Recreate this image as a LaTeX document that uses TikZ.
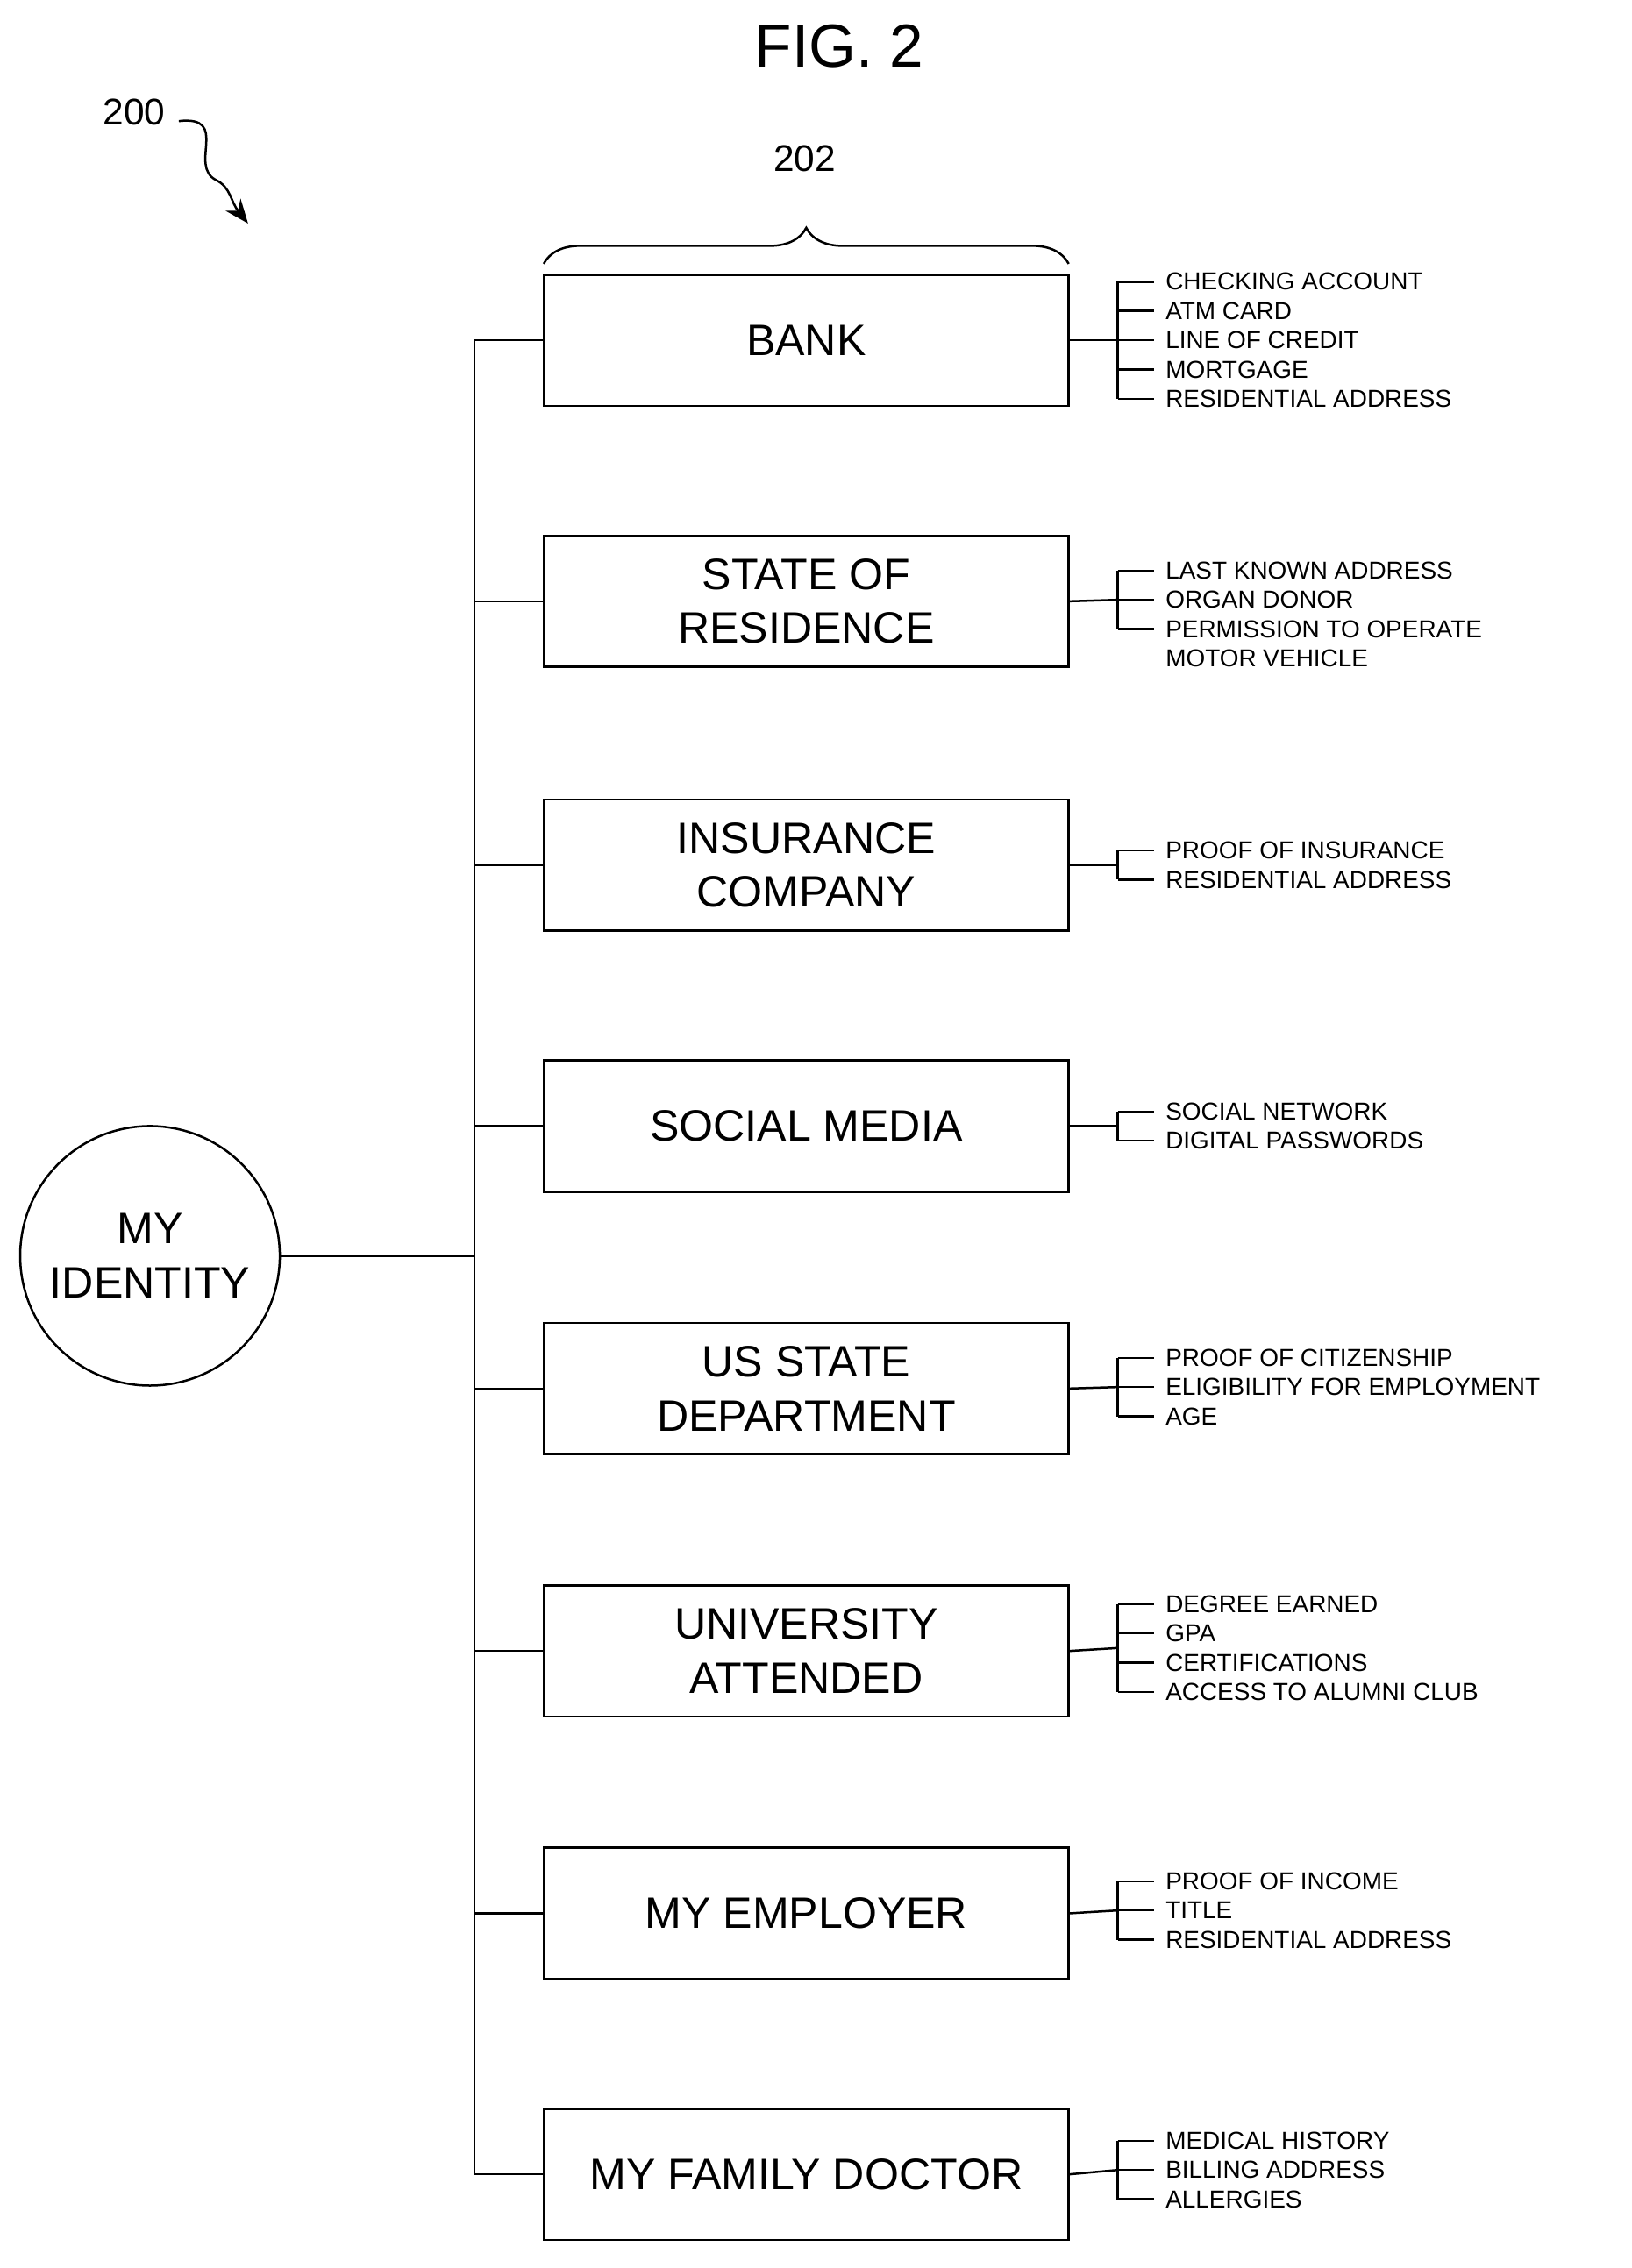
\documentclass[tikz,border=0pt]{standalone}
\usepackage{fontspec}
\setmainfont{Liberation Sans}
\usetikzlibrary{arrows.meta,decorations.pathreplacing}
\tikzset{
  org/.style={draw,line width=1.3pt,minimum width=10.92cm,minimum height=2.73cm,
              align=center,font=\fontsize{26}{32}\selectfont},
  item/.style={anchor=west,inner sep=0pt,font=\fontsize{14.5}{17}\selectfont},
  wire/.style={line width=1.3pt}
}
\newcommand{\itemlist}[3]{% box, center y, list
  \coordinate (#1j) at (775,#2);
  \draw[wire] (#1.east) -- (#1j);
  \foreach \t [count=\i] in {#3} {\xdef\nitems{\i}}
  \foreach \t [count=\i] in {#3} {
    \pgfmathsetmacro{\yy}{#2+(\i-(\nitems+1)/2)*20.3}
    \node[item] (#1t\i) at (808,\yy) {\t};
    \draw[wire] (775,\yy) -- (800,\yy);
  }
  \draw[wire] (775,{#2-(\nitems-1)/2*20.3}) -- (775,{#2+(\nitems-1)/2*20.3});
}
\begin{document}
\begin{tikzpicture}[x=0.03cm,y=-0.03cm]
\useasboundingbox (0,0) rectangle (1131,1573);
\node[font=\fontsize{36}{40}\selectfont] (fig) at (582,32) {FIG. 2};
\node[font=\fontsize{22}{26}\selectfont] (n200) at (93,78) {200};
\node[font=\fontsize{22}{26}\selectfont] (n202) at (558,110) {202};
\coordinate (s1) at (124,84);
\coordinate (s2) at (172,155);
\draw[wire,-{Stealth[length=5mm,width=4mm]}] (s1) .. controls (160,80) and (130,115) .. (150,125) .. controls (160,130) and (160,140) .. (s2);
\draw[wire,decorate,decoration={brace,amplitude=0.75cm}] (377,183) -- (741,183);
% identity
\node[draw,circle,line width=1.3pt,minimum size=5.4cm,align=center,
      font=\fontsize{26}{32}\selectfont] (me) at (104,871) {MY\\IDENTITY};
\coordinate (tr) at (329,871);
\draw[wire] (me) -- (tr);
% organisations
\foreach \nm/\y/\txt in {b1/236/BANK, b2/417/{STATE OF\\RESIDENCE},
    b3/600/{INSURANCE\\COMPANY}, b4/781/SOCIAL MEDIA,
    b5/963/{US STATE\\DEPARTMENT}, b6/1145/{UNIVERSITY\\ATTENDED},
    b7/1327/MY EMPLOYER, b8/1508/MY FAMILY DOCTOR} {
  \node[org] (\nm) at (559,\y) {\txt};
  \draw[wire] (329,\y) -- (\nm.west);
}
\draw[wire] (329,236) -- (329,1508);
% attributes
\itemlist{b1}{236}{CHECKING ACCOUNT,ATM CARD,LINE OF CREDIT,MORTGAGE,RESIDENTIAL ADDRESS}
\itemlist{b2}{416}{LAST KNOWN ADDRESS,ORGAN DONOR,PERMISSION TO OPERATE}
\node[item] (b2t4) at (808,456.6) {MOTOR VEHICLE};
\itemlist{b3}{600}{PROOF OF INSURANCE,RESIDENTIAL ADDRESS}
\itemlist{b4}{781}{SOCIAL NETWORK,DIGITAL PASSWORDS}
\itemlist{b5}{962}{PROOF OF CITIZENSHIP,ELIGIBILITY FOR EMPLOYMENT,AGE}
\itemlist{b6}{1143}{DEGREE EARNED,GPA,CERTIFICATIONS,ACCESS TO ALUMNI CLUB}
\itemlist{b7}{1325}{PROOF OF INCOME,TITLE,RESIDENTIAL ADDRESS}
\itemlist{b8}{1505}{MEDICAL HISTORY,BILLING ADDRESS,ALLERGIES}
\end{tikzpicture}
\end{document}
